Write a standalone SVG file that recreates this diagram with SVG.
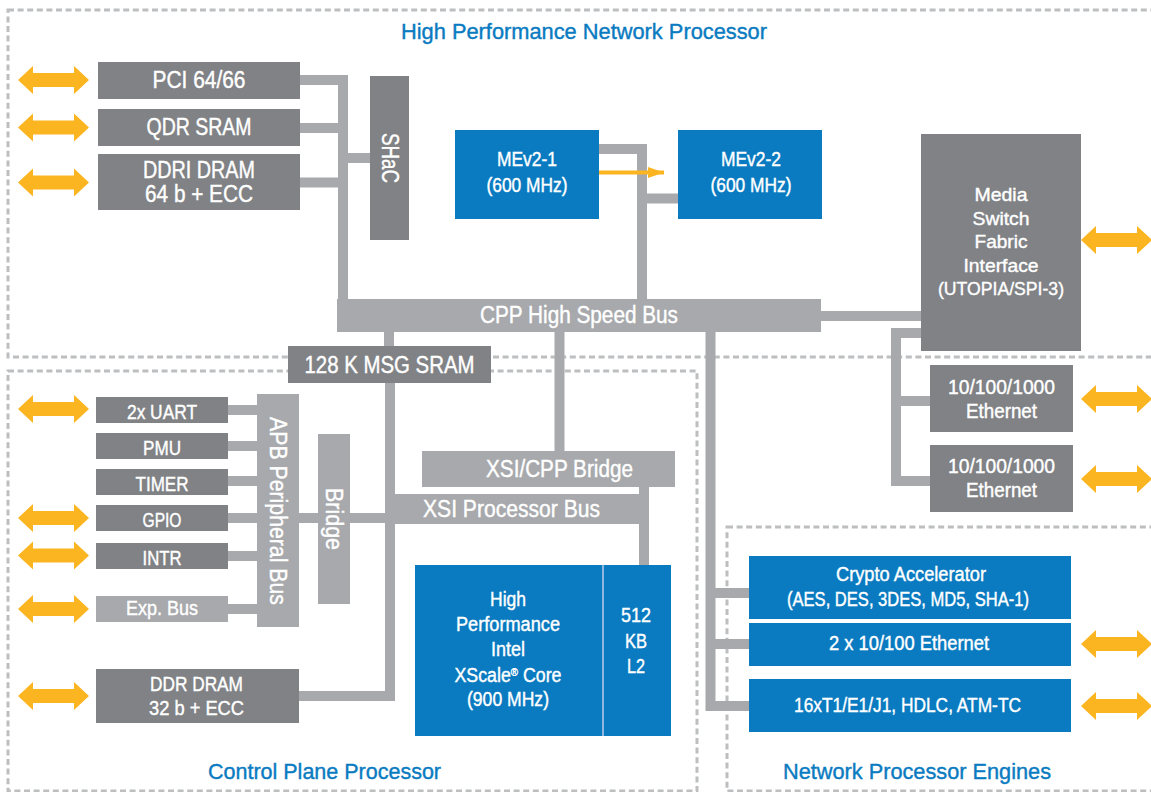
<svg xmlns="http://www.w3.org/2000/svg" xmlns:xlink="http://www.w3.org/1999/xlink" width="1151" height="792" viewBox="0 0 1151 792">
<style>
.dk{fill:#808285}
.lt{fill:#a7a9ac}
.bl{fill:#0a7bc1}
.dash{fill:none;stroke:#bcbec0;stroke-width:3;stroke-dasharray:6 3.6}
.wire{fill:none;stroke:#a7a9ac;stroke-width:10;stroke-linejoin:miter;stroke-linecap:butt}
text{font-family:"Liberation Sans",Arial,sans-serif;fill:#ffffff;stroke:#ffffff;stroke-width:0.4;text-anchor:middle}
.t23{font-size:23px}
.t20{font-size:20px}
.t19{font-size:19px}
.sec{font-size:22px;fill:#0a7bc1;stroke:#0a7bc1}
.io{fill:#fbb521}
</style>
<defs>
<path id="dbl" d="M-35.5,0 L-20.5,-14 L-20.5,-7 L20.5,-7 L20.5,-14 L35.5,0 L20.5,14 L20.5,7 L-20.5,7 L-20.5,14 Z"/>
<marker id="oarr" markerWidth="16" markerHeight="11" refX="16" refY="5.5" orient="auto" markerUnits="userSpaceOnUse">
<path d="M0,0 L16,5.5 L0,11 Z" fill="#fbb521"/>
</marker>
</defs>

<g id="regions">
<rect class="dash" x="8" y="10" width="1200" height="347"/>
<rect class="dash" x="8" y="371" width="689" height="420"/>
<rect class="dash" x="727" y="527" width="500" height="264"/>
<text class="sec" x="584" y="39" textLength="366" lengthAdjust="spacingAndGlyphs">High Performance Network Processor</text>
<text class="sec" x="324.5" y="779" textLength="233" lengthAdjust="spacingAndGlyphs">Control Plane Processor</text>
<text class="sec" x="917" y="779" textLength="268" lengthAdjust="spacingAndGlyphs">Network Processor Engines</text>
</g>

<g id="connectors">
<path class="wire" d="M300,80 H343 V316"/>
<path class="wire" d="M300,128 H343"/>
<path class="wire" d="M300,182.5 H343"/>
<path class="wire" d="M343,158 H370"/>
<path class="wire" d="M599,149 H642 V300"/>
<path class="wire" d="M642,198.5 H678"/>
<path class="wire" d="M820,316 H921"/>
<path class="wire" d="M921,333 H896 V481 H930"/>
<path class="wire" d="M896,401 H930"/>
<path class="wire" d="M389,332 V347"/>
<path class="wire" d="M390,383 V696 H299"/>
<path class="wire" d="M559.5,332 V451"/>
<path class="wire" d="M710.5,332 V706 H749"/>
<path class="wire" d="M710.5,593 H749"/>
<path class="wire" d="M710.5,644 H749"/>
<path class="wire" d="M228,410 H257"/>
<path class="wire" d="M228,446 H257"/>
<path class="wire" d="M228,481 H257"/>
<path class="wire" d="M228,518 H257"/>
<path class="wire" d="M228,556 H257"/>
<path class="wire" d="M228,609 H257"/>
<path class="wire" d="M299,518 H318"/>
<path class="wire" d="M350,518 H390"/>
<path class="wire" d="M644,487 V565"/>
<path d="M599,172.5 H664" fill="none" stroke="#fbb521" stroke-width="4" marker-end="url(#oarr)"/>
</g>

<g id="io-arrows">
<use class="io" xlink:href="#dbl" x="53.5" y="80"/>
<use class="io" xlink:href="#dbl" x="53.5" y="127.5"/>
<use class="io" xlink:href="#dbl" x="53.5" y="182.5"/>
<use class="io" xlink:href="#dbl" x="53.5" y="409"/>
<use class="io" xlink:href="#dbl" x="53.5" y="518"/>
<use class="io" xlink:href="#dbl" x="53.5" y="555.5"/>
<use class="io" xlink:href="#dbl" x="53.5" y="609"/>
<use class="io" xlink:href="#dbl" x="53.5" y="696"/>
<use class="io" xlink:href="#dbl" x="1116.5" y="240"/>
<use class="io" xlink:href="#dbl" x="1116.5" y="399"/>
<use class="io" xlink:href="#dbl" x="1116.5" y="479"/>
<use class="io" xlink:href="#dbl" x="1116.5" y="644"/>
<use class="io" xlink:href="#dbl" x="1116.5" y="706"/>
</g>

<g id="pci"><rect class="dk" x="98" y="62" width="202" height="37"/><text class="t23" x="199" y="88" textLength="93" lengthAdjust="spacingAndGlyphs">PCI 64/66</text></g>
<g id="qdr"><rect class="dk" x="98" y="109" width="202" height="37"/><text class="t23" x="199" y="135" textLength="105" lengthAdjust="spacingAndGlyphs">QDR SRAM</text></g>
<g id="ddri"><rect class="dk" x="98" y="154" width="202" height="56"/><text class="t23" x="199" y="178" textLength="112" lengthAdjust="spacingAndGlyphs">DDRI DRAM</text><text class="t23" x="199" y="202" textLength="108" lengthAdjust="spacingAndGlyphs">64 b + ECC</text></g>
<g id="shac"><rect class="dk" x="370" y="76" width="39" height="164"/><text class="t23" transform="translate(390,158) rotate(90)" x="0" y="8" textLength="50" lengthAdjust="spacingAndGlyphs">SHaC</text></g>
<g id="mev1"><rect class="bl" x="455" y="130" width="144" height="89"/><text class="t20" x="527" y="166" textLength="60" lengthAdjust="spacingAndGlyphs">MEv2-1</text><text class="t20" x="527" y="192" textLength="81" lengthAdjust="spacingAndGlyphs">(600 MHz)</text></g>
<g id="mev2"><rect class="bl" x="678" y="130" width="144" height="89"/><text class="t20" x="751" y="166" textLength="60" lengthAdjust="spacingAndGlyphs">MEv2-2</text><text class="t20" x="751" y="192" textLength="81" lengthAdjust="spacingAndGlyphs">(600 MHz)</text></g>
<g id="cpp"><rect class="lt" x="337" y="299" width="484" height="33"/><text class="t23" x="579" y="323" textLength="198" lengthAdjust="spacingAndGlyphs">CPP High Speed Bus</text></g>
<g id="media"><rect class="dk" x="921" y="134" width="160" height="217"/>
<text class="t19" x="1001" y="201" textLength="53" lengthAdjust="spacingAndGlyphs">Media</text>
<text class="t19" x="1001" y="225" textLength="57" lengthAdjust="spacingAndGlyphs">Switch</text>
<text class="t19" x="1001" y="248" textLength="53" lengthAdjust="spacingAndGlyphs">Fabric</text>
<text class="t19" x="1001" y="272" textLength="75" lengthAdjust="spacingAndGlyphs">Interface</text>
<text class="t19" x="1001" y="295" textLength="126" lengthAdjust="spacingAndGlyphs">(UTOPIA/SPI-3)</text></g>
<g id="eth1"><rect class="dk" x="930" y="365" width="143" height="67"/><text class="t20" x="1001.5" y="394" textLength="107" lengthAdjust="spacingAndGlyphs">10/100/1000</text><text class="t20" x="1001.5" y="418" textLength="71" lengthAdjust="spacingAndGlyphs">Ethernet</text></g>
<g id="eth2"><rect class="dk" x="930" y="445" width="143" height="67"/><text class="t20" x="1001.5" y="473" textLength="107" lengthAdjust="spacingAndGlyphs">10/100/1000</text><text class="t20" x="1001.5" y="497" textLength="71" lengthAdjust="spacingAndGlyphs">Ethernet</text></g>
<g id="msg"><rect class="dk" x="288" y="346" width="203" height="37"/><text class="t23" x="389.5" y="373" textLength="170" lengthAdjust="spacingAndGlyphs">128 K MSG SRAM</text></g>
<g id="uart"><rect class="dk" x="96" y="397" width="132" height="26"/><text class="t20" x="162" y="419" textLength="70" lengthAdjust="spacingAndGlyphs">2x UART</text></g>
<g id="pmu"><rect class="dk" x="96" y="433" width="132" height="26"/><text class="t20" x="162" y="455" textLength="38" lengthAdjust="spacingAndGlyphs">PMU</text></g>
<g id="timer"><rect class="dk" x="96" y="469" width="132" height="26"/><text class="t20" x="162" y="491" textLength="53" lengthAdjust="spacingAndGlyphs">TIMER</text></g>
<g id="gpio"><rect class="dk" x="96" y="505" width="132" height="26"/><text class="t20" x="162" y="527" textLength="39" lengthAdjust="spacingAndGlyphs">GPIO</text></g>
<g id="intr"><rect class="dk" x="96" y="543" width="132" height="26"/><text class="t20" x="162" y="565" textLength="39" lengthAdjust="spacingAndGlyphs">INTR</text></g>
<g id="expbus"><rect class="lt" x="96" y="596" width="132" height="26"/><text class="t20" x="162" y="615" textLength="72" lengthAdjust="spacingAndGlyphs">Exp. Bus</text></g>
<g id="apb"><rect class="lt" x="257" y="394" width="42" height="233"/><text class="t23" transform="translate(278,511) rotate(90)" x="0" y="8" textLength="188" lengthAdjust="spacingAndGlyphs">APB Peripheral Bus</text></g>
<g id="bridge"><rect class="lt" x="318" y="434" width="32" height="170"/><text class="t23" transform="translate(334,519) rotate(90)" x="0" y="8" textLength="62" lengthAdjust="spacingAndGlyphs">Bridge</text></g>
<g id="xsicpp"><rect class="lt" x="422" y="451" width="253" height="36"/><text class="t23" x="559.5" y="477" textLength="147" lengthAdjust="spacingAndGlyphs">XSI/CPP Bridge</text></g>
<g id="xsibus"><rect class="lt" x="385" y="494" width="264" height="30"/><text class="t23" x="511.5" y="517" textLength="177" lengthAdjust="spacingAndGlyphs">XSI Processor Bus</text></g>
<g id="core"><rect class="bl" x="415" y="565" width="256" height="171"/>
<line x1="603" y1="565" x2="603" y2="736" stroke="#8db7dc" stroke-width="2"/>
<text class="t20" x="508" y="606" textLength="36" lengthAdjust="spacingAndGlyphs">High</text>
<text class="t20" x="508" y="631" textLength="104" lengthAdjust="spacingAndGlyphs">Performance</text>
<text class="t20" x="508" y="656" textLength="34" lengthAdjust="spacingAndGlyphs">Intel</text>
<text class="t20" x="508" y="682" textLength="107" lengthAdjust="spacingAndGlyphs">XScale<tspan font-size="11" dy="-6">®</tspan><tspan dy="6"> Core</tspan></text>
<text class="t20" x="508" y="706" textLength="82" lengthAdjust="spacingAndGlyphs">(900 MHz)</text>
<text class="t20" x="636" y="622" textLength="30" lengthAdjust="spacingAndGlyphs">512</text>
<text class="t20" x="636" y="648" textLength="22" lengthAdjust="spacingAndGlyphs">KB</text>
<text class="t20" x="636" y="673" textLength="18" lengthAdjust="spacingAndGlyphs">L2</text></g>
<g id="ddr"><rect class="dk" x="96" y="669" width="203" height="54"/><text class="t20" x="196.5" y="691" textLength="93" lengthAdjust="spacingAndGlyphs">DDR DRAM</text><text class="t20" x="196.5" y="715" textLength="95" lengthAdjust="spacingAndGlyphs">32 b + ECC</text></g>
<g id="crypto"><rect class="bl" x="749" y="556" width="322" height="63"/><text class="t20" x="911" y="581" textLength="150" lengthAdjust="spacingAndGlyphs">Crypto Accelerator</text><text class="t20" x="908" y="606" textLength="242" lengthAdjust="spacingAndGlyphs">(AES, DES, 3DES, MD5, SHA-1)</text></g>
<g id="eth100"><rect class="bl" x="749" y="623" width="322" height="43"/><text class="t20" x="909" y="650" textLength="160" lengthAdjust="spacingAndGlyphs">2 x 10/100 Ethernet</text></g>
<g id="t1"><rect class="bl" x="749" y="679" width="322" height="53"/><text class="t20" x="907.5" y="712" textLength="227" lengthAdjust="spacingAndGlyphs">16xT1/E1/J1, HDLC, ATM-TC</text></g>
</svg>
